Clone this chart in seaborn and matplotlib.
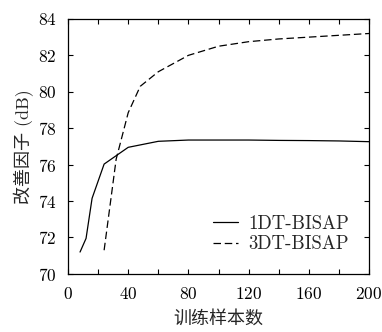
import matplotlib
matplotlib.use("Agg")
import matplotlib.pyplot as plt
import seaborn as sns
import pandas as pd
from matplotlib.ticker import MultipleLocator

x_1dt = [8, 12, 16, 24, 40, 60, 80, 100, 120, 140, 160, 180, 200]
y_1dt = [71.2, 71.95, 74.15, 76.03, 76.95, 77.28, 77.35, 77.35, 77.35, 77.33, 77.32, 77.3, 77.26]
x_3dt = [24, 32, 40, 48, 60, 80, 100, 120, 140, 160, 180, 200]
y_3dt = [71.3, 76.3, 78.85, 80.3, 81.1, 82.0, 82.5, 82.75, 82.9, 83.0, 83.1, 83.2]
series = ["1DT-BISAP", "3DT-BISAP"]

df = pd.concat([
    pd.DataFrame({"x": x_1dt, "y": y_1dt, "s": series[0]}),
    pd.DataFrame({"x": x_3dt, "y": y_3dt, "s": series[1]}),
])

sns.set_style("ticks")
plt.rcParams["font.family"] = ["cmr10", "Noto Sans CJK SC"]
plt.rcParams["axes.formatter.use_mathtext"] = True

fig = plt.figure(figsize=(3.82, 3.32), dpi=100)
ax = fig.add_axes([0.178, 0.175, 0.788, 0.768])

sns.lineplot(data=df, x="x", y="y", style="s", style_order=series,
             dashes={series[0]: "", series[1]: (6, 3)},
             color="black", linewidth=0.9, ax=ax, sort=False)

ax.set_xlim(0, 200)
ax.set_ylim(70, 84)
ax.xaxis.set_major_locator(MultipleLocator(40))
ax.xaxis.set_minor_locator(MultipleLocator(20))
ax.yaxis.set_major_locator(MultipleLocator(2))
ax.tick_params(which="both", direction="in", top=True, right=True, length=3.5,
               width=0.8, labelsize=12.5, colors="black")
ax.tick_params(axis="x", pad=9)
ax.tick_params(axis="y", pad=8)
for sp in ax.spines.values():
    sp.set_linewidth(0.9)
    sp.set_color("black")

ax.set_xlabel("训练样本数", fontsize=13, labelpad=5)
ax.set_ylabel("改善因子 (dB)", fontsize=13, labelpad=3)

leg = ax.legend(loc="lower right", frameon=False, fontsize=13.5,
                handlelength=1.35, handletextpad=0.55, labelspacing=0.12,
                bbox_to_anchor=(0.99, 0.015))

fig.savefig("out.png", dpi=100)
